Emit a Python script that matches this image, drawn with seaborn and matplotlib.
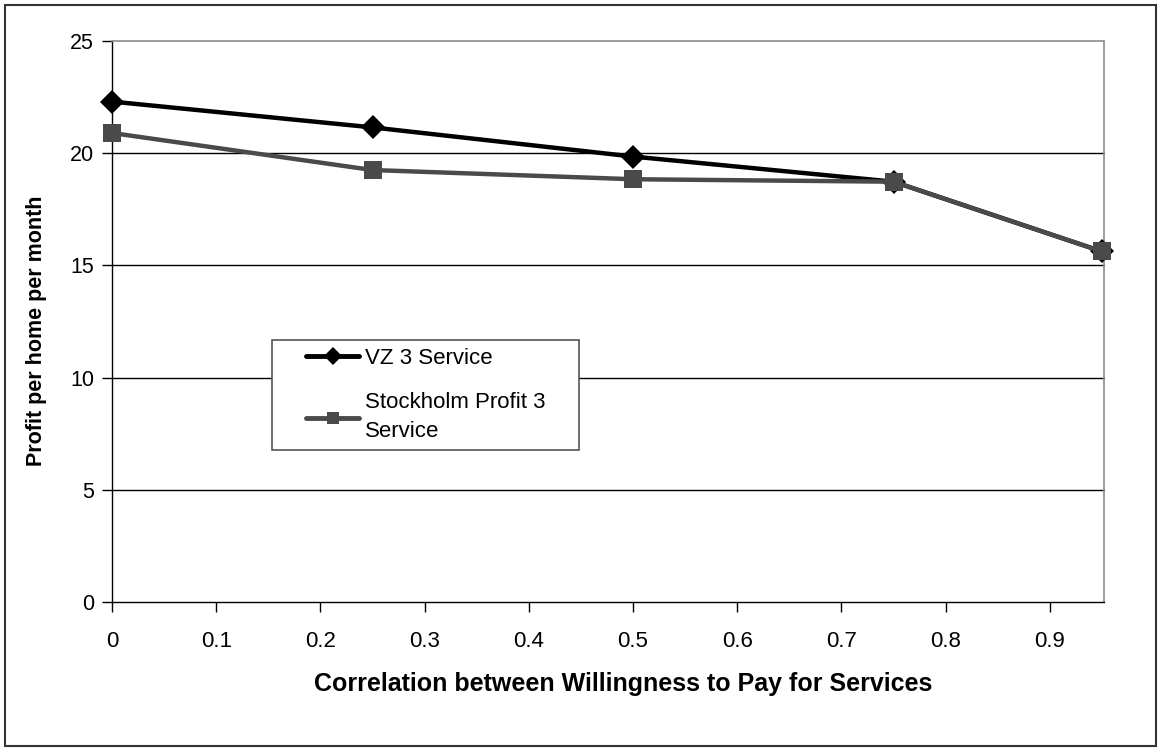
import matplotlib
matplotlib.use("Agg")
import matplotlib.pyplot as plt
import seaborn as sns
import pandas as pd
from matplotlib.patches import Rectangle

# Correlation levels and monthly profit per home for each scenario
correlation = [0.0, 0.25, 0.5, 0.75, 0.95]
vz_profit = [22.3, 21.15, 19.85, 18.73, 15.62]
stockholm_profit = [20.9, 19.25, 18.84, 18.73, 15.62]
series_names = ["VZ 3 Service", "Stockholm Profit 3\nService"]
x_ticks = [0, 0.1, 0.2, 0.3, 0.4, 0.5, 0.6, 0.7, 0.8, 0.9]
y_ticks = [0, 5, 10, 15, 20, 25]

df = pd.DataFrame({
    "corr": correlation * 2,
    "profit": vz_profit + stockholm_profit,
    "series": [series_names[0]] * len(correlation) + [series_names[1]] * len(correlation),
})

sns.set_theme(style="white")
plt.rcParams["font.family"] = ["Liberation Sans", "DejaVu Sans"]
plt.rcParams["text.color"] = "black"
plt.rcParams["axes.labelcolor"] = "black"

W, H = 1158, 749
fig = plt.figure(figsize=(W / 100, H / 100), dpi=100)
ax = fig.add_axes([112 / W, 1 - 602 / H, (1104 - 112) / W, (602 - 41) / H])

# outer chart frame
fig.patches.append(Rectangle((5 / W, 3 / H), 1151 / W, 741 / H,
                             transform=fig.transFigure, fill=False,
                             edgecolor="#333333", linewidth=1.5, zorder=0))

# horizontal gridlines
for y in y_ticks[1:-1]:
    ax.axhline(y, color="black", linewidth=1.0, zorder=1)

sns.lineplot(data=df, x="corr", y="profit", hue="series", style="series",
             palette={series_names[0]: "black", series_names[1]: "#4a4a4a"},
             markers={series_names[0]: "D", series_names[1]: "s"},
             dashes=False, linewidth=3.2, markersize=13,
             markeredgewidth=0, ax=ax, zorder=3, legend=True)

for line in ax.get_lines():
    line.set_clip_on(False)
    if line.get_marker() == "D":
        line.set_markersize(12.5)
    elif line.get_marker() == "s":
        line.set_markersize(13)

ax.set_xlim(0, 0.952)
ax.set_ylim(0, 25)
ax.set_xticks(x_ticks)
ax.set_xticklabels([f"{t:g}" for t in x_ticks])
ax.set_yticks(y_ticks)

for s in ["top", "right"]:
    ax.spines[s].set_color("#8c8c8c")
    ax.spines[s].set_linewidth(1.2)
for s in ["left", "bottom"]:
    ax.spines[s].set_color("black")
    ax.spines[s].set_linewidth(1.0)

ax.tick_params(axis="both", which="major", direction="out", length=7, width=1,
               color="black", labelcolor="black", bottom=True, left=True)
ax.tick_params(axis="x", labelsize=16, pad=14)
ax.tick_params(axis="y", labelsize=15.5, pad=6)

ax.set_xlabel("Correlation between Willingness to Pay for Services",
              fontsize=18, fontweight="bold", color="black")
ax.set_ylabel("Profit per home per month", fontsize=15.5, fontweight="bold", color="black")
ax.xaxis.set_label_coords(0.515, -0.124)
ax.yaxis.set_label_coords(-0.066, 0.483)

# legend box, drawn behind the legend entries
box = Rectangle((272 / W, 1 - 450 / H), (579 - 272) / W, (450 - 340) / H,
                transform=fig.transFigure, facecolor="white",
                edgecolor="#555555", linewidth=1.2, zorder=4, clip_on=False)
ax.add_patch(box)

handles, labels = ax.get_legend_handles_labels()
for h in handles:
    h.set_markersize(9)
    h.set_linewidth(3.5)
leg = ax.legend(handles, labels, loc="upper left",
                bbox_to_anchor=((306 - 112) / 992, (602 - 348) / 561),
                borderaxespad=0, borderpad=0, frameon=False, fontsize=16,
                handlelength=2.4, handletextpad=0.25, labelspacing=1.05)
leg.set_zorder(5)
for t in leg.get_texts():
    t.set_linespacing(1.5)
    t.set_color("black")

fig.savefig("out.png", dpi=100, facecolor="white")
